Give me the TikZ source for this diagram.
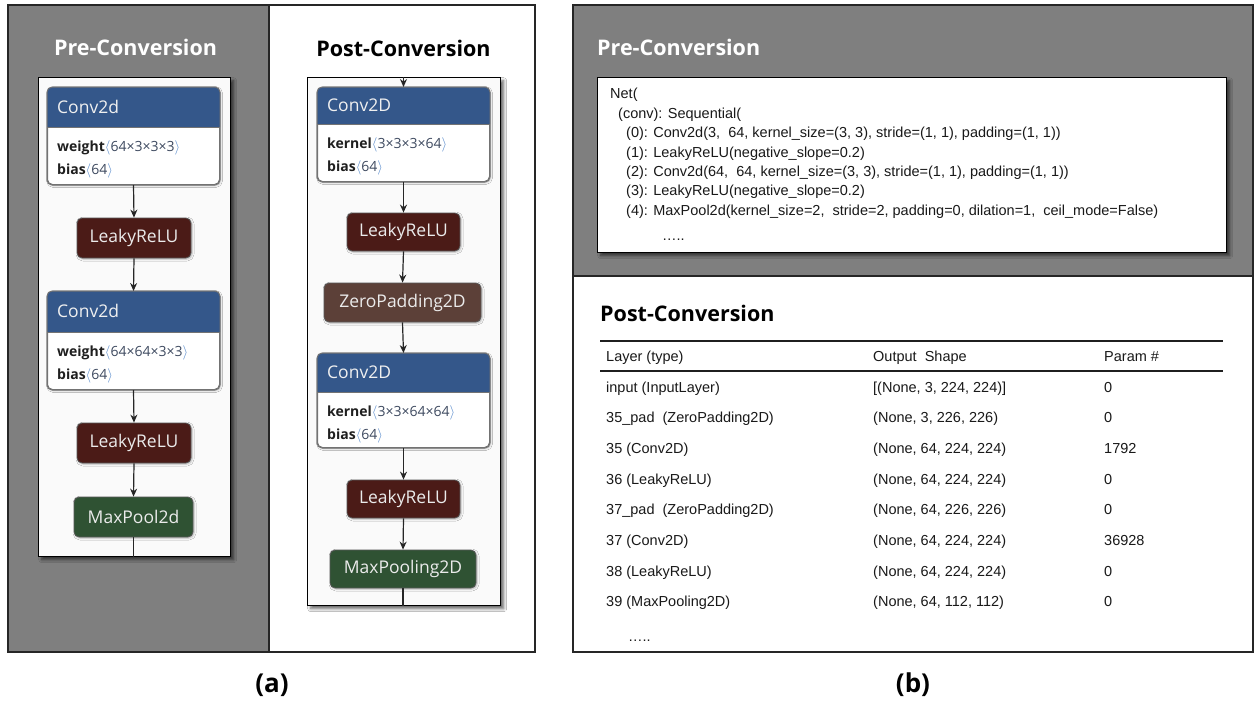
\documentclass[tikz,border=0pt]{standalone}
\usepackage{fontspec}
\setmainfont{Open Sans}
\newfontfamily\codefont{Liberation Sans}
\usetikzlibrary{arrows.meta,shadows.blur}

\definecolor{panelgray}{RGB}{127,127,127}
\definecolor{hdrblue}{RGB}{52,87,138}
\definecolor{leakyred}{RGB}{75,27,23}
\definecolor{padbrown}{RGB}{92,64,56}
\definecolor{poolgreen}{RGB}{47,82,51}
\definecolor{bracketblue}{RGB}{90,140,205}
\definecolor{dimtext}{RGB}{62,74,96}

\newcommand\dims[1]{\textcolor{bracketblue}{$\langle$}\textcolor{dimtext}{#1}\textcolor{bracketblue}{$\rangle$}}

% #1 name, #2 centre x, #3 top y, #4 height, #5 header height,
% #6 layer title, #7 parameter name, #8 parameter shape
\newcommand\convlayer[8]{%
  \node[convbox, minimum height=#4, anchor=north] (#1) at (#2,#3) {};
  \fill[hdrblue] ([yshift=-#5]#1.north west) [rounded corners=5pt]
    -- (#1.north west) -- (#1.north east) [sharp corners]
    -- ([yshift=-#5]#1.north east) -- cycle;
  \draw[boxedge] ([yshift=-#5]#1.north west) -- ([yshift=-#5]#1.north east);
  \draw[boxedge, rounded corners=5pt] (#1.north west) rectangle (#1.south east);
  \node[hdrtext] (#1-t) at ([xshift=10pt, yshift=-#5*0.5-6pt]#1.north west) {#6};
  \node[paramtext] (#1-w) at ([xshift=10pt, yshift=-#5-24pt]#1.north west) {\textbf{#7}\dims{#8}};
  \node[paramtext] (#1-b) at ([xshift=10pt, yshift=-#5-47pt]#1.north west) {\textbf{bias}\dims{64}};
}

\tikzset{
  panelframe/.style={draw=black!85, line width=1.2pt},
  cvframe/.style={draw=black, line width=1.4pt, fill=black!2, inner sep=0pt,
    blur shadow={shadow xshift=3pt, shadow yshift=-3pt, shadow blur radius=3pt, shadow opacity=60}},
  codeframe/.style={cvframe, fill=white},
  convbox/.style={draw=black!55, line width=1pt, fill=white, rounded corners=5pt,
    minimum width=172pt, inner sep=0pt,
    blur shadow={shadow xshift=1pt, shadow yshift=-1pt, shadow blur radius=2pt, shadow opacity=30}},
  boxedge/.style={draw=black!55, line width=1pt},
  hdrtext/.style={anchor=base west, inner sep=0pt, text=white!94!black,
    font=\fontsize{17.5}{20}\selectfont},
  paramtext/.style={anchor=base west, inner sep=0pt, text=black!88,
    font=\fontsize{14}{16}\selectfont},
  opbox/.style={rounded corners=5pt, draw=black!65, line width=0.8pt, inner sep=0pt,
    text=white!92!black, font=\fontsize{17.5}{20}\selectfont, minimum height=40pt,
    blur shadow={shadow xshift=1pt, shadow yshift=-1pt, shadow blur radius=2pt, shadow opacity=30}},
  leakybox/.style={opbox, fill=leakyred},
  padbox/.style={opbox, fill=padbrown},
  poolbox/.style={opbox, fill=poolgreen},
  link/.style={draw=black!85, line width=1.2pt},
  arr/.style={link, -{Stealth[length=8pt,width=7pt]}},
  ttl/.style={anchor=base, inner sep=0pt, font=\bfseries\fontsize{21.5}{26}\selectfont},
  captext/.style={anchor=base, inner sep=0pt, font=\bfseries\fontsize{26}{30}\selectfont},
  codetext/.style={anchor=base west, inner sep=0pt, text=black!90,
    font=\codefont\fontsize{14.5}{17}\selectfont},
  tabrule/.style={draw=black!88, line width=2pt},
}

\begin{document}
\begin{tikzpicture}[x=1pt, y=-1pt]
\useasboundingbox (0,0) rectangle (1255,704);
\fill[white] (0,0) rectangle (1255,704);

% ---------------- (a): model graphs ----------------
\fill[panelgray] (8,5) rectangle (269,652);
\draw[panelframe] (8,5) rectangle (535,652);
\draw[panelframe] (269,5) -- (269,652);
\node[ttl, text=white] (preAtitle) at (135.5,55) {Pre-Conversion};
\node[ttl] (postAtitle) at (403.5,56) {Post-Conversion};

% PyTorch graph
\node[cvframe, minimum width=192pt, minimum height=479pt, anchor=north west] (preA) at (38,77) {};
\convlayer{pc1}{133.5}{87}{97pt}{40pt}{Conv2d}{weight}{64×3×3×3}
\node[leakybox, minimum width=114pt] (pl1) at (134,238) {LeakyReLU};
\convlayer{pc2}{133.5}{291}{98pt}{41pt}{Conv2d}{weight}{64×64×3×3}
\node[leakybox, minimum width=114pt] (pl2) at (134,443) {LeakyReLU};
\node[poolbox, minimum width=119pt] (pm1) at (133.5,517) {MaxPool2d};
\draw[arr] (pc1.south) -- (pl1.north);
\draw[arr] (pl1.south) -- (pc2.north);
\draw[arr] (pc2.south) -- (pl2.north);
\draw[arr] (pl2.south) -- (pm1.north);
\draw[link] (pm1.south) -- (pm1.south |- preA.south);

% Keras graph
\node[cvframe, minimum width=193pt, minimum height=528pt, anchor=north west] (postA) at (307,77) {};
\convlayer{kc1}{403.5}{87}{94pt}{37pt}{Conv2D}{kernel}{3×3×3×64}
\node[leakybox, minimum width=113pt, minimum height=38pt] (kl1) at (403.5,232) {LeakyReLU};
\node[padbox, minimum width=157pt, minimum height=39pt] (kz1) at (402.5,302.5) {ZeroPadding2D};
\convlayer{kc2}{403.5}{353}{94pt}{39pt}{Conv2D}{kernel}{3×3×64×64}
\node[leakybox, minimum width=113pt, minimum height=38pt] (kl2) at (403.5,499) {LeakyReLU};
\node[poolbox, minimum width=146pt, minimum height=38pt] (km1) at (403,569) {MaxPooling2D};
\draw[arr] (kc1.north |- postA.north) -- (kc1.north);
\draw[arr] (kc1.south) -- (kl1.north);
\draw[arr] (kl1.south) -- (kz1.north);
\draw[arr] (kz1.south) -- (kc2.north);
\draw[arr] (kc2.south) -- (kl2.north);
\draw[arr] (kl2.south) -- (km1.north);
\draw[link] (km1.south) -- (km1.south |- postA.south);

\node[captext] (capA) at (272,692) {(a)};

% ---------------- (b): model summaries ----------------
\fill[panelgray] (573,5) rectangle (1253,276);
\draw[panelframe] (573,5) rectangle (1253,652);
\draw[panelframe] (573,276) -- (1253,276);
\node[ttl, text=white, anchor=base west] (preBtitle) at (597,55) {Pre-Conversion};

\node[codeframe, minimum width=629pt, minimum height=175pt, anchor=north west] (net) at (597,77) {};
\node[codetext] (n0) at (610,98) {Net(};
\node[codetext] (n1) at (618,118) {(conv): Sequential(};
\node[codetext] (n2) at (626,137.5) {(0): Conv2d(3,\ \ 64, kernel\_size=(3, 3), stride=(1, 1), padding=(1, 1))};
\node[codetext] (n3) at (626,157.5) {(1): LeakyReLU(negative\_slope=0.2)};
\node[codetext] (n4) at (626,176.5) {(2): Conv2d(64,\ \ 64, kernel\_size=(3, 3), stride=(1, 1), padding=(1, 1))};
\node[codetext] (n5) at (626,195.5) {(3): LeakyReLU(negative\_slope=0.2)};
\node[codetext] (n6) at (626,215) {(4): MaxPool2d(kernel\_size=2,\ \ stride=2, padding=0, dilation=1,\ \ ceil\_mode=False)};
\node[codetext] (n7) at (662,240) {…..};

\node[ttl, anchor=base west] (postBtitle) at (600,321) {Post-Conversion};
\draw[tabrule] (600,341) -- (1223,341);
\draw[tabrule] (600,371) -- (1223,371);
\node[codetext] (h1) at (606,361) {Layer (type)};
\node[codetext] (h2) at (873,361) {Output\ \ Shape};
\node[codetext] (h3) at (1104,361) {Param \#};

\foreach \y/\lay/\shp/\prm [count=\i] in {
  392/input (InputLayer)/{[(None, 3, 224, 224)]}/0,
  422.6/35\_pad\ \ (ZeroPadding2D)/{(None, 3, 226, 226)}/0,
  453.3/35 (Conv2D)/{(None, 64, 224, 224)}/1792,
  484/36 (LeakyReLU)/{(None, 64, 224, 224)}/0,
  514.6/37\_pad\ \ (ZeroPadding2D)/{(None, 64, 226, 226)}/0,
  545.3/37 (Conv2D)/{(None, 64, 224, 224)}/36928,
  576/38 (LeakyReLU)/{(None, 64, 224, 224)}/0,
  606.6/39 (MaxPooling2D)/{(None, 64, 112, 112)}/0}{
  \node[codetext] (r\i a) at (606,\y) {\lay};
  \node[codetext] (r\i b) at (873,\y) {\shp};
  \node[codetext] (r\i c) at (1104,\y) {\prm};
}
\node[codetext] (rdots) at (628,641) {…..};

\node[captext] (capB) at (913,692) {(b)};
\end{tikzpicture}
\end{document}
